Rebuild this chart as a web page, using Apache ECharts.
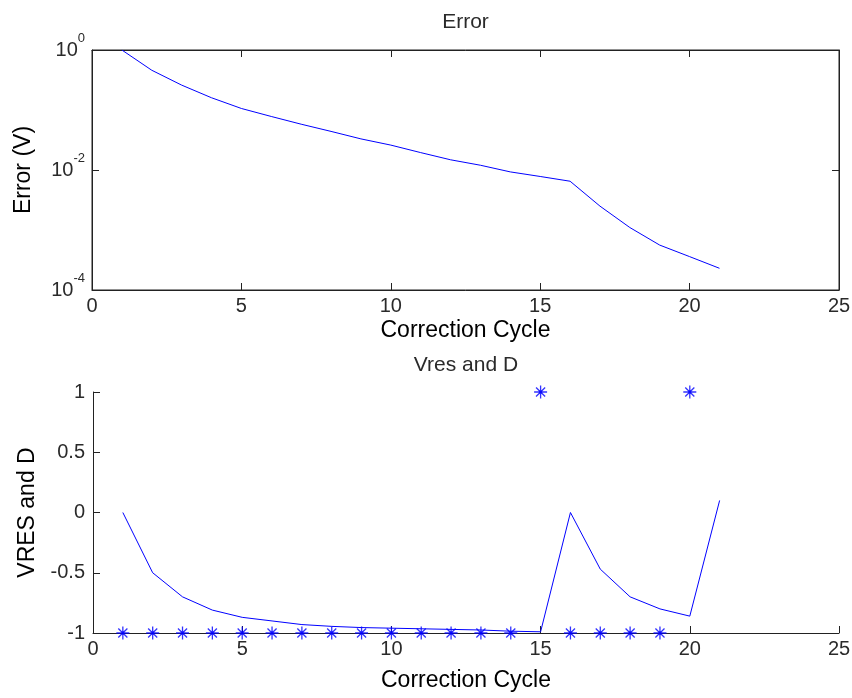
<!DOCTYPE html>
<html>
<head>
<meta charset="utf-8">
<script src="https://cdn.jsdelivr.net/npm/echarts@6/dist/echarts.min.js"></script>
<style>
  html, body { margin: 0; padding: 0; background: #ffffff; }
  #chart { width: 852px; height: 698px; }
</style>
</head>
<body>
<div id="chart"></div>
<script>
// Correction cycle index for each iteration
const cycles = [1, 2, 3, 4, 5, 6, 7, 8, 9, 10, 11, 12, 13, 14, 15, 16, 17, 18, 19, 20, 21];
// Residual error after each cycle (V), log scale
const errorV = [1.0, 0.46, 0.26, 0.16, 0.106, 0.078, 0.058, 0.044, 0.033, 0.026, 0.0195,
                0.0148, 0.012, 0.0093, 0.0078, 0.0065, 0.0025, 0.0011, 0.00056, 0.00036, 0.00023];
// Residual voltage per cycle
const vres = [0.0, -0.5, -0.7, -0.81, -0.87, -0.9, -0.93, -0.945, -0.955, -0.96, -0.965,
              -0.97, -0.975, -0.985, -0.99, 0.0, -0.47, -0.7, -0.8, -0.86, 0.1];
// Decision bit per cycle
const dCycles = [1, 2, 3, 4, 5, 6, 7, 8, 9, 10, 11, 12, 13, 14, 15, 16, 17, 18, 19, 20];
const dBits = [-1, -1, -1, -1, -1, -1, -1, -1, -1, -1, -1, -1, -1, -1, 1, -1, -1, -1, -1, 1];
// Axis ranges
const xRange = [0, 25];
const xStep = 5;
const logRange = [1e-4, 1];
const logStepDecades = 2;
const vRange = [-1, 1];
const vStep = 0.5;

const FONT = 'Liberation Sans, Arial, sans-serif';
const INK = '#222222';
const LABEL = '#2a2a2a';
const BLUE = '#0000ff';

const pairs = (xs, ys) => xs.map((x, i) => [x, ys[i]]);

const axisLine = { onZero: false, lineStyle: { color: INK, width: 1 } };
const tickIn = { inside: true, length: 7, lineStyle: { color: INK, width: 1 } };
const tickLabel = { color: LABEL, fontSize: 20, fontFamily: FONT, margin: 6 };
const nameStyle = { color: '#000000', fontSize: 23, fontFamily: FONT };
const titleStyle = { color: LABEL, fontSize: 21, fontFamily: FONT };

// Asterisk marker: plus + cross with a small centre block
const asterisk = 'path://M0,-10L0,10M-10,0L10,0M-7,-7L7,7M-7,7L7,-7M-2,-2L2,-2L2,2L-2,2Z';

const chart = echarts.init(document.getElementById('chart'), null, { renderer: 'canvas' });

chart.setOption({
  animation: false,
  backgroundColor: '#ffffff',
  textStyle: { fontFamily: FONT },
  grid: [
    { left: 92, top: 50, width: 747, height: 240, show: true, borderColor: INK, borderWidth: 1,
      backgroundColor: 'transparent', containLabel: false, outerBoundsMode: 'none' },
    { left: 93, top: 392, width: 746, height: 241, show: false,
      containLabel: false, outerBoundsMode: 'none' }
  ],
  xAxis: [
    { gridIndex: 0, type: 'value', position: 'bottom', min: xRange[0], max: xRange[1], interval: xStep,
      axisLine, axisTick: tickIn, axisLabel: tickLabel, splitLine: { show: false },
      name: 'Correction Cycle', nameLocation: 'middle', nameGap: 29, nameTextStyle: nameStyle },
    { gridIndex: 0, type: 'value', position: 'top', min: xRange[0], max: xRange[1], interval: xStep,
      axisLine, axisTick: tickIn, axisLabel: { show: false }, splitLine: { show: false },
      name: 'Error', nameLocation: 'middle', nameGap: 17, nameTextStyle: titleStyle },
    { gridIndex: 1, type: 'value', position: 'bottom', min: xRange[0], max: xRange[1], interval: xStep,
      axisLine, axisTick: tickIn, axisLabel: tickLabel, splitLine: { show: false },
      name: 'Correction Cycle', nameLocation: 'middle', nameGap: 36, nameTextStyle: nameStyle },
    { gridIndex: 1, type: 'value', position: 'top', min: xRange[0], max: xRange[1], interval: xStep,
      axisLine: { show: false }, axisTick: { show: false }, axisLabel: { show: false },
      splitLine: { show: false },
      name: 'Vres and D', nameLocation: 'middle', nameGap: 16, nameTextStyle: titleStyle }
  ],
  yAxis: [
    { gridIndex: 0, type: 'log', logBase: 10, position: 'left', min: logRange[0], max: logRange[1],
      interval: logStepDecades, axisLine, axisTick: tickIn, splitLine: { show: false },
      axisLabel: {
        margin: 7, fontFamily: FONT, color: LABEL,
        formatter: v => '{b|10}{s|' + Math.round(Math.log10(v)) + '}',
        rich: {
          b: { fontSize: 20, lineHeight: 36, color: LABEL, fontFamily: FONT },
          s: { fontSize: 13, lineHeight: 13, verticalAlign: 'top', color: LABEL, fontFamily: FONT }
        }
      },
      name: 'Error (V)', nameLocation: 'middle', nameGap: 57, nameTextStyle: nameStyle },
    { gridIndex: 0, type: 'log', logBase: 10, position: 'right', min: logRange[0], max: logRange[1],
      interval: logStepDecades, axisLine, axisTick: tickIn, axisLabel: { show: false },
      splitLine: { show: false } },
    { gridIndex: 1, type: 'value', position: 'left', min: vRange[0], max: vRange[1], interval: vStep,
      axisLine, axisTick: tickIn, axisLabel: Object.assign({}, tickLabel, { margin: 8 }),
      splitLine: { show: false },
      name: 'VRES and D', nameLocation: 'middle', nameGap: 51, nameTextStyle: nameStyle }
  ],
  series: [
    { type: 'line', xAxisIndex: 0, yAxisIndex: 0, data: pairs(cycles, errorV),
      showSymbol: false, lineStyle: { color: BLUE, width: 1 }, z: 3 },
    { type: 'line', xAxisIndex: 2, yAxisIndex: 2, data: pairs(cycles, vres),
      showSymbol: false, lineStyle: { color: BLUE, width: 1 }, z: 3 },
    { type: 'scatter', xAxisIndex: 2, yAxisIndex: 2, data: pairs(dCycles, dBits),
      symbol: asterisk, symbolSize: 13,
      itemStyle: { color: BLUE, borderColor: BLUE, borderWidth: 1.3 }, z: 4 }
  ]
});
</script>
</body>
</html>
